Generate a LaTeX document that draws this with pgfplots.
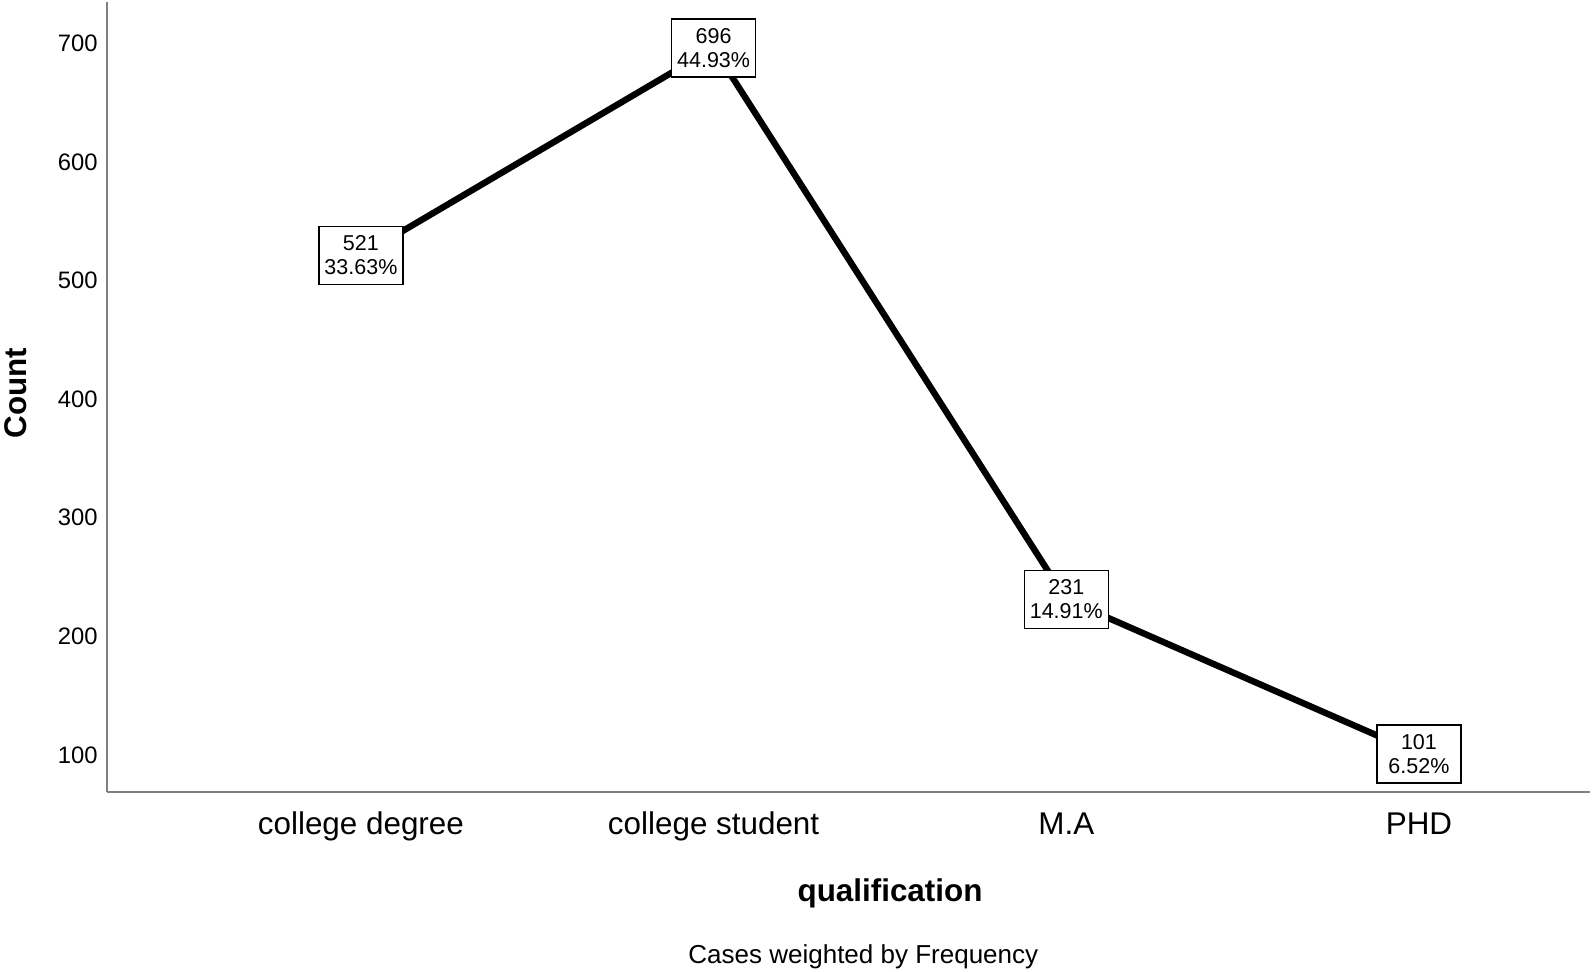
\documentclass[border=0pt]{standalone}
\usepackage{pgfplots}
\pgfplotsset{compat=1.18}
\usepackage{fontspec}
\setmainfont{Liberation Sans}
\begin{document}
\begin{tikzpicture}
\begin{axis}[
  name=ax,
  scale only axis,
  width=741.5pt, height=395pt,
  xmin=-0.720, xmax=3.485,
  ymin=68.8, ymax=734.8,
  axis x line*=bottom, axis y line*=left,
  axis line style={draw=black!50, line width=1.2pt},
  xtick={0,1,2,3},
  xticklabels={college degree, college student, M.A, PHD},
  ytick={100,200,300,400,500,600,700},
  major tick length=0pt,
  tick style={draw=none},
  /pgf/number format/assume math mode=true,
  yticklabel style={font=\fontsize{11.9}{14}\selectfont, anchor=east, inner sep=0pt, xshift=-4.5pt},
  xticklabel style={font=\fontsize{15.7}{19}\selectfont, anchor=base, inner sep=0pt, yshift=-21.5pt},
  xlabel={qualification},
  xlabel style={font=\bfseries\fontsize{15.7}{19}\selectfont, at={(rel axis cs:0.528,0)}, anchor=base, yshift=-55pt, inner sep=0pt},
  ylabel={Count},
  ylabel style={font=\bfseries\fontsize{15.7}{19}\selectfont, at={(rel axis cs:0,0.505)}, anchor=base, inner sep=0pt, yshift=40pt},
  clip=false,
  point meta=explicit symbolic,
  nodes near coords,
  nodes near coords align={center},
  every node near coord/.append style={draw=black, line width=0.75pt, fill=white, align=center,
     font=\fontsize{10.75}{12}\selectfont, minimum width=42pt, minimum height=29pt, inner sep=1pt, anchor=center},
]
\addplot[black, line width=3.2pt, mark=none] coordinates {
  (0,521) [521\\33.63\%]
  (1,696) [696\\44.93\%]
  (2,231) [231\\14.91\%]
  (3,101) [101\\6.52\%]
};
\node[font=\fontsize{13}{15}\selectfont, anchor=base, inner sep=0pt, yshift=-86pt] at (rel axis cs:0.510,0) {Cases weighted by Frequency};
\end{axis}
\pgfresetboundingbox
\path (ax.south west) ++(-53.5pt,-90pt) rectangle ++(797pt,486pt);
\end{tikzpicture}
\end{document}
